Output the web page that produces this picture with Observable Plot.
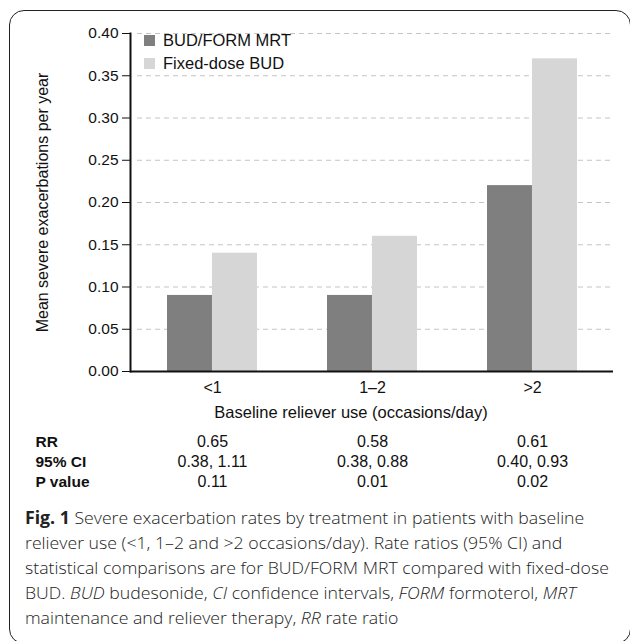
<!DOCTYPE html>
<html>
<head>
<meta charset="utf-8">
<script src="https://cdn.jsdelivr.net/npm/d3@7"></script>
<script src="https://cdn.jsdelivr.net/npm/@observablehq/plot@0.6"></script>
<style>
  html, body { margin: 0; padding: 0; background: #fff; width: 630px; height: 641px; overflow: hidden; }
  #frame { position: absolute; left: 9px; top: 10px; width: 622px; height: 634px; border: 1.6px solid #222; border-radius: 15px; box-sizing: border-box; }
  #chart { position: absolute; left: 0; top: 0; }
  #legend { position: absolute; left: 144px; top: 29px; font-family: 'Liberation Sans', Arial, sans-serif; font-size: 16.5px; color: #111; }
  #legend .row { display: flex; align-items: center; height: 23px; }
  #legend .sw { width: 11px; height: 11px; margin-right: 8px; }
  #caption { position: absolute; left: 25px; top: 505px; font-family: 'Open Sans', sans-serif; font-weight: 300; font-size: 17px; line-height: 25px; color: #222; white-space: nowrap; transform: scaleX(1.04); transform-origin: 0 0; }
  #caption b { font-weight: 700; }
</style>
</head>
<body>
<div id="frame"></div>
<div id="chart"></div>
<div id="legend"></div>
<div id="caption"></div>
<script>
const categories = ["<1", "1\u20132", ">2"];
const seriesNames = ["BUD/FORM MRT", "Fixed-dose BUD"];
const seriesColors = ["#7f7f7f", "#d6d6d6"];
const mrtValues = [0.09, 0.09, 0.22];
const budValues = [0.14, 0.16, 0.37];
const yTicks = [0, 0.05, 0.10, 0.15, 0.20, 0.25, 0.30, 0.35, 0.40];
const rowLabels = ["RR", "95% CI", "P value"];
const rrValues = ["0.65", "0.58", "0.61"];
const ciValues = ["0.38, 1.11", "0.38, 0.88", "0.40, 0.93"];
const pValues = ["0.11", "0.01", "0.02"];
const xLabel = "Baseline reliever use (occasions/day)";
const yLabel = "Mean severe exacerbations per year";
const captionLines = [
  "<b>Fig. 1</b> Severe exacerbation rates by treatment in patients with baseline",
  "reliever use (&lt;1, 1\u20132 and &gt;2 occasions/day). Rate ratios (95% CI) and",
  "statistical comparisons are for BUD/FORM MRT compared with fixed-dose",
  "BUD. <i>BUD</i> budesonide, <i>CI</i> confidence intervals, <i>FORM</i> formoterol, <i>MRT</i>",
  "maintenance and reliever therapy, <i>RR</i> rate ratio"
];

const W = 630, H = 500, mL = 130, mR = 17, mT = 33, mB = H - 371;
const padIn = 0.44, padOut = 0.224;
const band = d3.scaleBand(categories, [mL, W - mR]).paddingInner(padIn).paddingOuter(padOut);
const half = band.bandwidth() / 2;

const mrtData = categories.map((c, i) => ({category: c, value: mrtValues[i]}));
const budData = categories.map((c, i) => ({category: c, value: budValues[i]}));
const rows = [rrValues, ciValues, pValues];
const rowDy = [75, 95, 115];

const font = "'Liberation Sans', Arial, sans-serif";

const marks = [
  Plot.gridY(yTicks.slice(1), {stroke: "#c4c4c4", strokeOpacity: 1, strokeDasharray: "5,4", insetLeft: 7}),
  Plot.barY(mrtData, {x: "category", y: "value", fill: seriesColors[0], insetRight: half}),
  Plot.barY(budData, {x: "category", y: "value", fill: seriesColors[1], insetLeft: half}),
  Plot.ruleY([0], {stroke: "#111", strokeWidth: 2}),
  Plot.frame({anchor: "left", stroke: "#111", strokeWidth: 2}),
  Plot.axisY(yTicks, {tickSize: 8, tickPadding: 4, tickFormat: d3.format(".2f"), label: null, fontSize: 15.5}),
  Plot.axisX({tickSize: 0, tickPadding: 10, label: null, fontSize: 16}),
  Plot.text([xLabel], {frameAnchor: "bottom", dy: 46, dx: -21, fontSize: 16.5}),
  Plot.text([yLabel], {frameAnchor: "left", textAnchor: "middle", rotate: -90, dx: -88, fontSize: 16})
];
rows.forEach((vals, r) => {
  marks.push(Plot.text(categories, {x: d => d, text: (d, i) => vals[i], frameAnchor: "bottom", dy: rowDy[r], fontSize: 16}));
  marks.push(Plot.text([rowLabels[r]], {frameAnchor: "bottom-left", textAnchor: "start", dx: -95, dy: rowDy[r], fontSize: 15.5, fontWeight: "bold"}));
});

const chart = Plot.plot({
  width: W, height: H,
  marginLeft: mL, marginRight: mR, marginTop: mT, marginBottom: mB,
  style: {fontFamily: font, fontSize: "15px", color: "#111", background: "transparent", overflow: "visible"},
  x: {domain: categories, paddingInner: padIn, paddingOuter: padOut, axis: null},
  y: {domain: [0, 0.4], axis: null},
  marks
});
document.getElementById("chart").appendChild(chart);

const legend = document.getElementById("legend");
seriesNames.forEach((s, i) => {
  const row = document.createElement("div");
  row.className = "row";
  const sw = document.createElement("div");
  sw.className = "sw";
  sw.style.background = seriesColors[i];
  const t = document.createElement("span");
  t.textContent = s;
  row.appendChild(sw); row.appendChild(t);
  legend.appendChild(row);
});

document.getElementById("caption").innerHTML = captionLines.join("<br>");
</script>
</body>
</html>
